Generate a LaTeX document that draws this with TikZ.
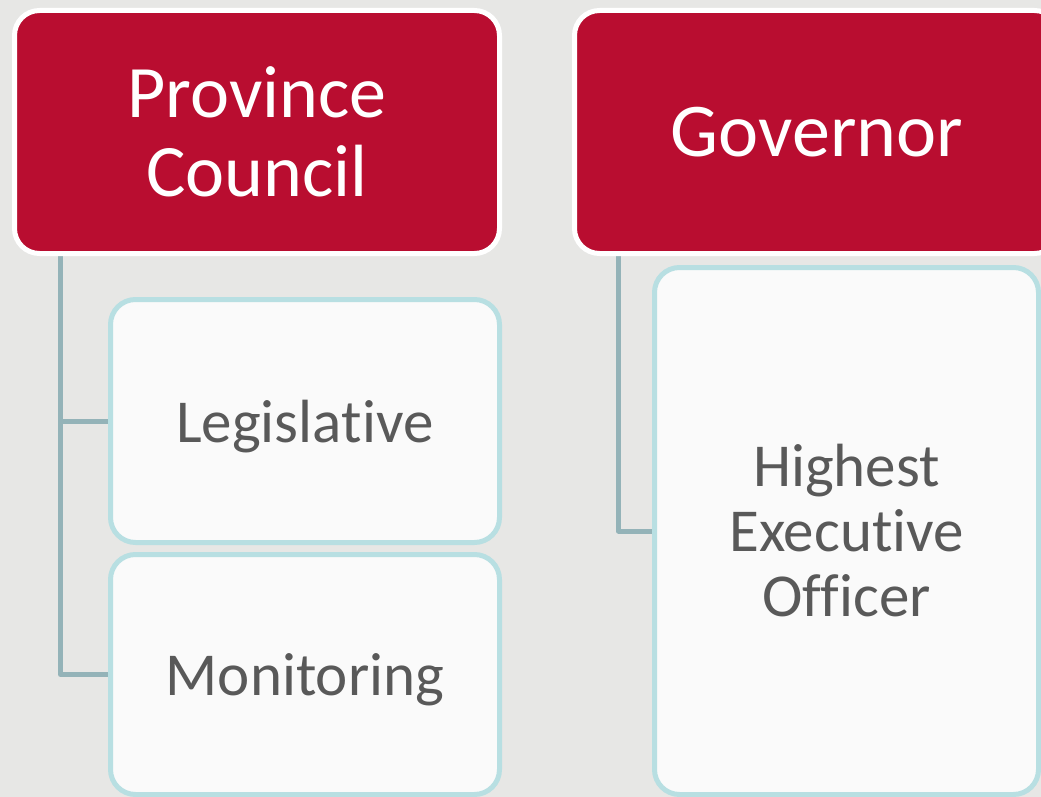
\documentclass[tikz,border=0pt]{standalone}
\usepackage{fontspec}
\setmainfont[RawFeature={-liga;-clig;-calt;-dlig}]{Carlito}
\definecolor{crimson}{RGB}{185,13,48}
\definecolor{canvas}{RGB}{231,231,229}
\definecolor{boxfill}{RGB}{250,250,250}
\definecolor{paleblue}{RGB}{184,223,226}
\definecolor{linkgray}{RGB}{148,179,184}
\definecolor{textgray}{RGB}{89,89,89}
\pgfdeclarelayer{canvaslayer}
\pgfdeclarelayer{linklayer}
\pgfsetlayers{canvaslayer,linklayer,main}
\begin{document}
\begin{tikzpicture}[x=1pt,y=-1pt,
  headbox/.style={draw=white, line width=5pt, fill=crimson, rounded corners=25pt,
    minimum width=485pt, minimum height=243pt, text=white, align=center,
    font=\fontsize{74}{79}\selectfont, inner sep=0pt},
  subbox/.style={draw=paleblue, line width=5pt, fill=boxfill, rounded corners=25pt,
    text=textgray, align=center, font=\fontsize{61}{65}\selectfont, inner sep=0pt},
  link/.style={draw=linkgray, line width=5pt, line join=round}]
\useasboundingbox (0,0) rectangle (1041,797);
\clip (0,0) rectangle (1041,797);
\begin{pgfonlayer}{canvaslayer}
  \fill[canvas] (0,0) rectangle (1041,797);
\end{pgfonlayer}

% headings
\node[headbox] (pc) at (257,132) {Province\\Council};
\node[headbox, font=\fontsize{76}{81}\selectfont] (gov) at (817,132) {Governor};

% duties
\node[subbox, text depth=0pt, minimum width=389pt, minimum height=243pt] (leg) at (305,421) {Legisla\kern0pt tive};
\node[subbox, text depth=0pt, minimum width=389pt, minimum height=240pt] (mon) at (305,674.5) {Monitoring};
\node[subbox, minimum width=384pt, minimum height=527pt] (heo) at (846.5,531) {Highest\\Execu\kern0pt tive\\Officer};

% tree connectors
\begin{pgfonlayer}{linklayer}
  \draw[link] ([xshift=48.5pt]pc.south west) |- (leg.west);
  \draw[link] ([xshift=48.5pt]pc.south west) |- (mon.west);
  \draw[link] ([xshift=46.5pt]gov.south west) |- (heo.west);
\end{pgfonlayer}
\end{tikzpicture}
\end{document}
